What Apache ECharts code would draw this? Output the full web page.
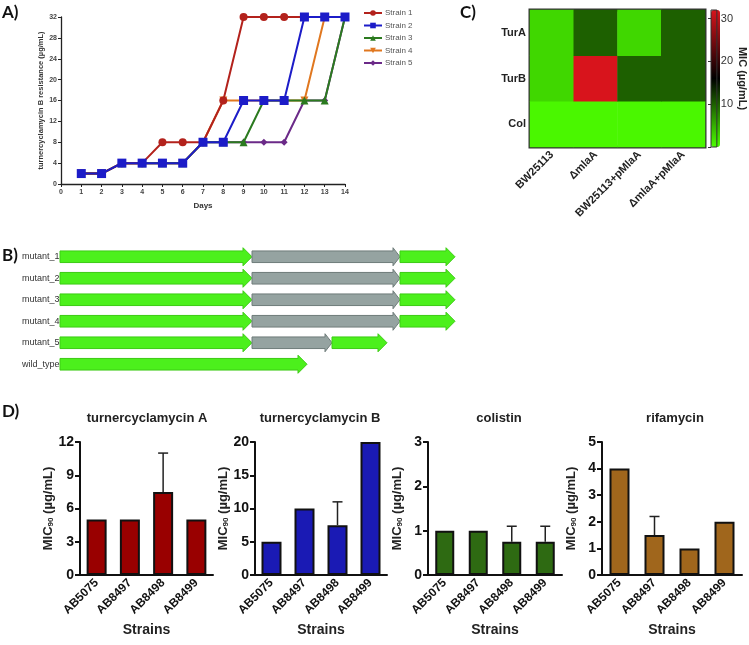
<!DOCTYPE html>
<html>
<head>
<meta charset="utf-8">
<script src="https://cdn.jsdelivr.net/npm/echarts@6/dist/echarts.min.js"></script>
<style>html,body{margin:0;padding:0;background:#fff}#c{width:749px;height:645px}</style>
</head>
<body>
<div id="c"></div>
<script>
// ---------- Panel A data ----------
const days = [1,2,3,4,5,6,7,8,9,10,11,12,13,14];
const strainNames = ['Strain 1','Strain 2','Strain 3','Strain 4','Strain 5'];
const strain1 = [2,2,4,4,8,8,8,16,32,32,32,32,32,32];
const strain2 = [2,2,4,4,4,4,8,8,16,16,16,32,32,32];
const strain3 = [2,2,4,4,4,4,8,8,8,16,16,16,16,32];
const strain4 = [2,2,4,4,4,4,8,16,16,16,16,16,32,32];
const strain5 = [2,2,4,4,4,4,8,8,8,8,8,16,16,32];

// ---------- Panel B data ----------
const geneRows = ['mutant_1','mutant_2','mutant_3','mutant_4','mutant_5','wild_type'];
const mutant_1 = [0,192,340,395];
const mutant_2 = [0,192,340,395];
const mutant_3 = [0,192,340,395];
const mutant_4 = [0,192,340,395];
const mutant_5 = [0,192,272,327];
const wild_type = [0,247];
const mutantKinds = ['orf','insert','orf'];
const wildKinds = ['orf'];

// ---------- Panel C data ----------
const hmStrains = ['BW25113','ΔmlaA','BW25113+pMlaA','ΔmlaA+pMlaA'];
const hmDrugs = ['Col','TurB','TurA'];
const micCol  = [0.5,0.5,0.5,0.5];
const micTurB = [2.5,32,10,10];
const micTurA = [2.5,10,2.5,10];

// ---------- Panel D data ----------
const strains = ['AB5075','AB8497','AB8498','AB8499'];
const turA = [5,5,7.5,5];
const turAErr = [0,0,3.5,0];
const turB = [5,10,7.5,20];
const turBErr = [0,0,3.5,0];
const colistin = [1,1,0.75,0.75];
const colistinErr = [0,0,0.35,0.35];
const rifamycin = [4,1.5,1,2];
const rifamycinErr = [0,0.7,0,0];

const FONT = '"Liberation Sans", Arial, sans-serif';
const chart = echarts.init(document.getElementById('c'), null, {renderer:'canvas'});

const grids = [];
const xAxes = [];
const yAxes = [];
const series = [];

// ===== Panel A =====
grids.push({left:61, right:404, top:17, bottom:461});
xAxes.push({gridIndex:0, type:'value', min:0, max:14, interval:1,
  name:'Days', nameLocation:'middle', nameGap:18,
  nameTextStyle:{fontFamily:FONT, fontWeight:'bold', fontSize:8, color:'#333'},
  axisLine:{lineStyle:{color:'#222', width:1.3}}, axisTick:{length:3, lineStyle:{color:'#222'}},
  axisLabel:{fontFamily:FONT, fontWeight:'bold', fontSize:7, color:'#444', margin:5}, splitLine:{show:false}});
yAxes.push({gridIndex:0, type:'value', min:0, max:32, interval:4,
  name:'turnercyclamycin B resistance (µg/mL)', nameLocation:'middle', nameGap:14,
  nameTextStyle:{fontFamily:FONT, fontWeight:'bold', fontSize:7.5, color:'#333'},
  axisLine:{show:true, lineStyle:{color:'#222', width:1.3}}, axisTick:{show:true, length:3, lineStyle:{color:'#222'}},
  axisLabel:{fontFamily:FONT, fontWeight:'bold', fontSize:7, color:'#444', margin:4}, splitLine:{show:false}});
const strainData = [strain1, strain2, strain3, strain4, strain5];
const strainColors = ['#b3221c','#1c1cc8','#2b7a1f','#e0771f','#6b2a88'];
const strainSymbols = ['circle','rect','triangle','triangle','diamond'];
const strainRot = [0,0,0,180,0];
const strainSize = [8,9,8,8,7];
const strainZ = [5,6,4,3,2];
strainNames.forEach((n,i)=>{
  series.push({name:n, type:'line', xAxisIndex:0, yAxisIndex:0, z:strainZ[i],
    data: days.map((d,k)=>[d, strainData[i][k]]),
    symbol: strainSymbols[i], symbolRotate: strainRot[i], symbolSize: strainSize[i],
    lineStyle:{width:2, color:strainColors[i]}, itemStyle:{color:strainColors[i]},
    animation:false});
});

// ===== Panel B =====
grids.push({left:60, right:289, top:246, bottom:270});
xAxes.push({gridIndex:1, type:'value', min:0, max:400, show:false});
yAxes.push({gridIndex:1, type:'category', data:geneRows, inverse:true,
  axisLine:{show:false}, axisTick:{show:false}, splitLine:{show:false}, z:10,
  axisLabel:{fontFamily:FONT, fontSize:9, color:'#333',
    align:'left', margin:38, overflow:'none', width:120}});
const geneData = [];
const rowBounds = [mutant_1, mutant_2, mutant_3, mutant_4, mutant_5, wild_type];
rowBounds.forEach((b,r)=>{
  const kinds = b.length === 2 ? wildKinds : mutantKinds;
  for (let k=0;k<b.length-1;k++) geneData.push([r, b[k], b[k+1], kinds[k]==='orf'?0:1]);
});
series.push({type:'custom', xAxisIndex:1, yAxisIndex:1, data:geneData, animation:false,
  renderItem:function(params, api){
    const r = api.value(0), s = api.value(1), e = api.value(2), kind = api.value(3);
    const p0 = api.coord([s, r]); const p1 = api.coord([e, r]);
    const rowH = api.size([0,1])[1];
    const bh = rowH*0.27, hh = rowH*0.42, hl = kind===0 ? 9 : 7;
    const y = p0[1];
    const xb = p1[0]-hl;
    const pts = [[p0[0],y-bh],[xb,y-bh],[xb,y-hh],[p1[0],y],[xb,y+hh],[xb,y+bh],[p0[0],y+bh]];
    return {type:'polygon', shape:{points:pts},
      style:{fill: kind===0 ? '#4cf01c' : '#95a3a1', stroke: kind===0 ? '#3ccb14' : '#6f7c7a', lineWidth:1}};
  }});

// ===== Panel C =====
grids.push({left:530, right:44, top:10, bottom:498, show:true, borderColor:'#333', borderWidth:3, backgroundColor:'transparent'});
xAxes.push({gridIndex:2, type:'category', data:hmStrains,
  axisLine:{lineStyle:{color:'#333', width:2}}, axisTick:{alignWithLabel:true, length:4, lineStyle:{color:'#333', width:1.5}},
  axisLabel:{rotate:45, fontFamily:FONT, fontWeight:'bold', fontSize:11, color:'#222', margin:6}, splitLine:{show:false}});
yAxes.push({gridIndex:2, type:'category', data:hmDrugs,
  axisLine:{lineStyle:{color:'#333', width:2}}, axisTick:{alignWithLabel:true, length:4, lineStyle:{color:'#333', width:1.5}},
  axisLabel:{fontFamily:FONT, fontWeight:'bold', fontSize:11, color:'#222', margin:4}, splitLine:{show:false}});
const hmRows = [micCol, micTurB, micTurA];
const hmData = [];
hmRows.forEach((row,yi)=>row.forEach((v,xi)=>hmData.push([xi, yi, v])));
const heatIndex = series.length;
series.push({type:'heatmap', xAxisIndex:2, yAxisIndex:2, data:hmData, animation:false, emphasis:{disabled:true}});
// colorbar helper axis
grids.push({left:711, width:9, top:10, height:137, show:true, borderColor:'#333', borderWidth:1, backgroundColor:'transparent', z:5});
xAxes.push({gridIndex:3, type:'value', show:false, min:0, max:1});
yAxes.push({gridIndex:3, type:'value', position:'right', min:0, max:32, interval:10,
  name:'MIC (µg/mL)', nameLocation:'middle', nameRotate:-90, nameGap:19,
  nameTextStyle:{fontFamily:FONT, fontWeight:'bold', fontSize:11, color:'#222'},
  axisLine:{show:false}, axisTick:{show:true, inside:true, length:3, lineStyle:{color:'#333'}},
  axisLabel:{fontFamily:FONT, fontSize:11, color:'#333', margin:4,
    formatter:v=> v===0 ? '' : String(v)}, splitLine:{show:false}, z:6});

// ===== Panel D =====
const dGrids = [
  {left:80, right:536}, {left:255, right:362}, {left:428, right:187}, {left:602, right:7}
];
const dVals = [turA, turB, colistin, rifamycin];
const dErrs = [turAErr, turBErr, colistinErr, rifamycinErr];
const dMax = [12, 20, 3, 5];
const dInt = [3, 5, 1, 1];
const dColors = ['#990000','#1a1ab4','#2e6a12','#a0661c'];
const dTitles = ['turnercyclamycin A','turnercyclamycin B','colistin','rifamycin'];
dGrids.forEach((g,i)=>{
  const gi = 4 + i;
  grids.push({left:g.left, right:g.right, top:442, bottom:70});
  xAxes.push({gridIndex:gi, type:'category', data:strains,
    name:'Strains', nameLocation:'middle', nameGap:48,
    nameTextStyle:{fontFamily:FONT, fontWeight:'bold', fontSize:14, color:'#222'},
    axisLine:{lineStyle:{color:'#111', width:2}}, axisTick:{alignWithLabel:true, length:5, lineStyle:{color:'#111', width:2}},
    axisLabel:{rotate:45, fontFamily:FONT, fontWeight:'bold', fontSize:12, color:'#111', margin:6}});
  yAxes.push({gridIndex:gi, type:'value', min:0, max:dMax[i], interval:dInt[i],
    name:'MIC{sub|90} (µg/mL)', nameLocation:'middle', nameGap:24,
    nameTextStyle:{fontFamily:FONT, fontWeight:'bold', fontSize:13, color:'#222',
      rich:{sub:{fontFamily:FONT, fontWeight:'bold', fontSize:8, color:'#222', padding:[5,0,0,0]}}},
    axisLine:{show:true, lineStyle:{color:'#111', width:2}}, axisTick:{show:true, length:5, lineStyle:{color:'#111', width:2}},
    axisLabel:{fontFamily:FONT, fontWeight:'bold', fontSize:14, color:'#111', margin:6}, splitLine:{show:false}});
  series.push({type:'bar', xAxisIndex:gi, yAxisIndex:gi, data:dVals[i], barWidth: i===2?19:20, animation:false,
    itemStyle:{color:dColors[i], borderColor:'#111', borderWidth:2}});
  const errData = [];
  dVals[i].forEach((v,k)=>{ if (dErrs[i][k] > 0) errData.push([k, v, v + dErrs[i][k]]); });
  series.push({type:'custom', xAxisIndex:gi, yAxisIndex:gi, data:errData, animation:false, z:1,
    renderItem:function(params, api){
      const lo = api.coord([api.value(0), api.value(1)]);
      const hi = api.coord([api.value(0), api.value(2)]);
      return {type:'group', children:[
        {type:'line', shape:{x1:lo[0], y1:lo[1], x2:hi[0], y2:hi[1]}, style:{stroke:'#222', lineWidth:1.5}},
        {type:'line', shape:{x1:hi[0]-5, y1:hi[1], x2:hi[0]+5, y2:hi[1]}, style:{stroke:'#222', lineWidth:1.5}}
      ]};
    }});
});

const titleX = [147, 320, 499, 675];
const graphics = [
  {type:'text', left:2, top:4, style:{text:'A)', font:'bold 17px Lato, "Liberation Sans", sans-serif', fill:'#111'}},
  {type:'text', left:2, top:247, style:{text:'B)', font:'bold 17px Lato, "Liberation Sans", sans-serif', fill:'#111'}},
  {type:'text', left:460, top:4, style:{text:'C)', font:'bold 17px Lato, "Liberation Sans", sans-serif', fill:'#111'}},
  {type:'text', left:2, top:403, style:{text:'D)', font:'bold 17px Lato, "Liberation Sans", sans-serif', fill:'#111'}}
];
dTitles.forEach((t,i)=>graphics.push({type:'text', x:titleX[i], y:418,
  style:{text:t, font:'bold 13px "Liberation Sans", Arial', fill:'#222', textAlign:'center', textVerticalAlign:'middle'}}));

chart.setOption({
  animation:false,
  textStyle:{fontFamily:FONT},
  grid:grids, xAxis:xAxes, yAxis:yAxes, series:series,
  legend:{data:strainNames, orient:'vertical', left:358, top:4, itemWidth:18, itemHeight:7, itemGap:4.5,
    textStyle:{fontFamily:FONT, fontSize:8, color:'#555', padding:[0,0,0,-2]}},
  visualMap:{type:'continuous', seriesIndex:heatIndex, min:0, max:32, left:711, top:10, itemWidth:9, itemHeight:137,
    padding:0, text:['',''], calculable:false, showLabel:false, realtime:false,
    inRange:{color:['#4cff00','#000000','#d8141c']}},
  graphic:graphics
});
</script>
</body>
</html>
